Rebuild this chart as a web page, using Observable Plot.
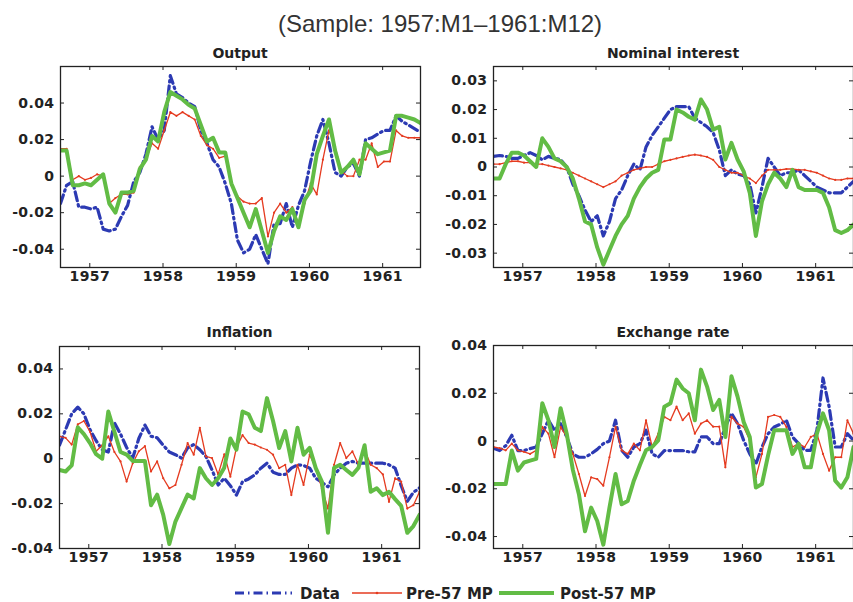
<!DOCTYPE html>
<html>
<head>
<meta charset="utf-8">
<script src="https://cdn.jsdelivr.net/npm/d3@7"></script>
<script src="https://cdn.jsdelivr.net/npm/@observablehq/plot@0.6"></script>
<style>
  html, body { margin: 0; padding: 0; background: #fff; }
  #root { position: relative; width: 853px; height: 602px; overflow: hidden; background: #fff; }
  #root svg { position: absolute; }
</style>
</head>
<body>
<div id="root"></div>
<script>
// ---- Data (monthly, 60 observations) ----
const startYear = 1956.6;
const xTicks = [1957, 1958, 1959, 1960, 1961];
const seriesNames = ["Data", "Pre-57 MP", "Post-57 MP"];

// Output
const outputData = [-0.015,-0.005,-0.003,-0.017,-0.017,-0.018,-0.017,-0.029,-0.030,-0.029,-0.022,-0.016,-0.003,0.002,0.012,0.027,0.020,0.025,0.055,0.045,0.043,0.040,0.038,0.025,0.018,0.009,0.005,-0.004,-0.015,-0.035,-0.042,-0.040,-0.032,-0.040,-0.048,-0.026,-0.026,-0.015,-0.028,-0.016,-0.008,0.008,0.022,0.031,0.018,0.002,0.000,0.005,0.007,0.000,0.020,0.021,0.023,0.025,0.025,0.033,0.030,0.028,0.026,0.024];
const outputPre = [0.015,0.015,-0.002,0.000,-0.002,-0.001,0.001,0.000,-0.015,-0.012,-0.010,-0.010,-0.009,0.005,0.009,0.018,0.015,0.025,0.035,0.033,0.035,0.033,0.031,0.022,0.017,0.015,0.010,0.011,-0.005,-0.011,-0.014,-0.015,-0.015,-0.012,-0.033,-0.020,-0.015,-0.020,-0.017,-0.026,-0.015,-0.004,-0.010,0.009,0.025,0.016,0.003,0.000,0.000,0.009,0.009,0.018,0.005,0.008,0.008,0.025,0.022,0.021,0.021,0.021];
const outputPost = [0.014,0.014,-0.005,-0.005,-0.004,-0.005,-0.002,0.001,-0.015,-0.020,-0.009,-0.009,-0.008,0.004,0.009,0.022,0.019,0.035,0.046,0.044,0.042,0.039,0.037,0.028,0.019,0.021,0.013,0.013,-0.004,-0.012,-0.020,-0.028,-0.018,-0.030,-0.042,-0.030,-0.022,-0.024,-0.018,-0.028,-0.013,-0.008,0.012,0.022,0.031,0.014,0.002,0.005,0.009,0.001,0.018,0.015,0.012,0.013,0.014,0.033,0.033,0.032,0.031,0.029];

// Nominal interest
const rateData = [0.0037,0.004,0.0037,0.003,0.003,0.004,0.005,0.004,0.0025,0.0037,0.003,0.0026,0.000,-0.006,-0.010,-0.015,-0.019,-0.017,-0.024,-0.019,-0.011,-0.008,-0.003,0.001,-0.001,0.007,0.011,0.014,0.017,0.020,0.021,0.021,0.021,0.017,0.0155,0.014,0.012,0.006,-0.003,-0.001,-0.0025,-0.003,-0.006,-0.016,-0.007,0.003,0.000,-0.003,-0.002,-0.002,-0.001,-0.003,-0.005,-0.007,-0.008,-0.009,-0.009,-0.009,-0.007,-0.005];
const ratePre = [0.001,0.001,0.0015,0.002,0.002,0.0015,0.0015,0.001,0.001,0.0005,0.000,-0.0005,-0.001,-0.002,-0.003,-0.004,-0.005,-0.006,-0.007,-0.006,-0.005,-0.003,-0.002,-0.001,-0.0005,0.000,0.000,0.001,0.002,0.0025,0.003,0.0035,0.004,0.0043,0.004,0.0035,0.0025,0.000,-0.001,-0.002,-0.002,-0.003,-0.004,-0.0056,-0.003,-0.001,-0.001,-0.001,-0.0007,-0.0007,-0.001,-0.001,-0.0015,-0.002,-0.003,-0.004,-0.0045,-0.0045,-0.004,-0.004];
const ratePost = [-0.004,-0.004,0.001,0.005,0.005,0.004,0.002,0.000,0.010,0.007,0.003,0.002,0.000,-0.004,-0.011,-0.019,-0.020,-0.028,-0.034,-0.029,-0.024,-0.020,-0.017,-0.011,-0.007,-0.004,-0.002,-0.001,0.0096,0.0096,0.020,0.019,0.0175,0.0165,0.0235,0.020,0.013,0.014,0.0026,0.0084,0.0026,-0.0015,-0.009,-0.024,-0.012,-0.006,-0.002,-0.004,-0.007,-0.001,-0.007,-0.008,-0.008,-0.008,-0.009,-0.014,-0.022,-0.023,-0.022,-0.020];

// Inflation
const inflData = [0.006,0.013,0.020,0.023,0.020,0.013,0.008,0.004,0.003,0.016,0.011,0.005,0.0003,0.009,0.015,0.010,0.0093,0.006,0.003,0.0018,0.0003,0.0048,0.0063,0.004,0.001,-0.005,-0.0117,-0.0087,-0.012,-0.0162,-0.0102,-0.009,-0.0072,-0.0042,-0.002,-0.006,-0.007,-0.007,-0.0042,-0.0027,-0.003,-0.0042,-0.0087,-0.0105,-0.0125,-0.0072,-0.0042,-0.002,-0.0012,-0.002,-0.002,-0.002,-0.002,-0.002,-0.0027,-0.0042,-0.012,-0.019,-0.015,-0.013];
const inflPre = [0.010,0.0093,0.0063,0.0153,0.0168,0.012,0.0033,0.006,0.010,0.003,-0.0012,-0.0102,-0.002,0.0033,0.0056,-0.0057,-0.0012,-0.0087,-0.0132,-0.0117,-0.0027,0.007,0.0018,0.0138,0.001,0.0003,-0.007,0.002,-0.008,0.005,0.0105,0.007,0.0063,0.005,0.004,0.0018,-0.0042,-0.0027,-0.0162,-0.0027,-0.0117,0.0018,-0.0042,-0.0132,-0.0222,-0.0027,0.007,0.0003,0.0033,-0.0027,0.004,-0.0027,-0.0042,-0.007,-0.0192,-0.0087,-0.0102,-0.0222,-0.0207,-0.0147];
const inflPost = [-0.005,-0.0057,-0.003,0.014,0.011,0.007,0.002,0.000,0.021,0.012,0.003,0.0018,-0.001,-0.001,-0.001,-0.0207,-0.016,-0.025,-0.038,-0.028,-0.022,-0.016,-0.0177,-0.0042,-0.0087,-0.0117,-0.0087,-0.004,0.009,0.004,0.021,0.0198,0.0138,0.0123,0.027,0.0168,0.0048,0.0123,-0.0012,0.0138,0.0018,0.0048,-0.0042,-0.0102,-0.033,-0.004,-0.0027,-0.005,-0.0072,-0.004,0.006,-0.0147,-0.0132,-0.0162,-0.0147,-0.018,-0.021,-0.033,-0.030,-0.025];

// Exchange rate
const fxData = [-0.003,-0.004,-0.002,0.0024,-0.004,-0.004,-0.0032,-0.0025,0.0031,0.0087,0.0045,0.0073,0.0017,-0.0054,-0.0068,-0.0068,-0.0054,-0.0035,-0.0011,0.000,0.0087,-0.0039,-0.0068,-0.0025,-0.0011,0.0045,-0.0054,-0.0068,-0.004,-0.004,-0.004,-0.004,-0.0045,-0.0045,0.0017,0.0017,-0.0011,-0.0011,0.0059,0.0116,0.0073,0.0003,-0.0054,-0.0096,-0.0025,0.003,0.0059,0.007,0.0087,0.0017,-0.0011,-0.0039,-0.0039,0.0045,0.0264,0.0144,-0.0025,-0.0025,0.0031,0.0003];
const fxPre = [-0.0025,-0.003,-0.0039,-0.0011,-0.0039,-0.0045,-0.0054,-0.0039,0.0059,0.0031,-0.0068,0.0059,0.0017,-0.0054,-0.0138,-0.023,-0.0152,-0.0159,-0.0187,-0.0068,0.0059,-0.0039,-0.0054,-0.0011,-0.0039,0.0087,-0.0025,0.0031,0.0101,0.0087,0.0144,0.0087,0.0116,0.0031,0.0073,0.0087,0.006,0.006,-0.011,0.0101,0.0073,0.0059,0.0003,-0.0152,-0.0054,0.0101,0.0109,0.0101,0.0059,-0.0025,-0.0011,-0.0025,0.0017,0.0031,-0.0054,-0.0124,-0.0068,-0.0068,0.0087,0.0031];
const fxPost = [-0.018,-0.018,-0.018,-0.004,-0.0124,-0.009,-0.0082,-0.0075,0.0158,0.0087,-0.0025,0.0137,0.0031,-0.012,-0.0223,-0.0378,-0.0279,-0.0335,-0.0434,-0.028,-0.0138,-0.0265,-0.0251,-0.0166,-0.010,-0.0039,-0.0025,0.0003,0.0144,0.0158,0.0257,0.022,0.020,0.0087,0.0299,0.0228,0.013,0.0172,0.0017,0.0271,0.0186,0.008,0.0017,-0.0195,-0.018,-0.006,0.0045,0.0045,0.0045,-0.0054,-0.0011,-0.011,-0.011,0.0031,0.0116,0.0045,-0.0166,-0.0195,-0.0152,-0.0025];

// ---- Styling ----
const BLUE = "#2c3ab3", RED = "#e53b20", GREEN = "#62bc45", INK = "#222";
const TICK_FONT = "DejaVu Sans";
const DASH = "9,4,1.5,4";
const fmtY = d => (d === 0 ? "0" : d.toFixed(2));

function rows(vals) { return vals.map((v, i) => ({ t: startYear + i / 12, v })); }

const root = document.getElementById("root");

function panel(cfg) {
  const W = 360, H = cfg.H, ml = 60, mr = 12, mt = 10, mb = 32, tk = 4;
  const textOpts = { fontSize: 14, fontWeight: "bold", fontFamily: TICK_FONT, fill: INK };
  const chart = Plot.plot({
    width: W + ml + mr, height: H + mt + mb,
    marginLeft: ml, marginRight: mr, marginTop: mt, marginBottom: mb,
    x: { domain: [startYear, startYear + 59 / 12] },
    y: { domain: cfg.yDomain },
    style: { fontFamily: TICK_FONT, fontWeight: "bold", fontSize: "14px", color: INK, background: "transparent", overflow: "visible" },
    marks: [
      Plot.lineY(rows(cfg.data), { x: "t", y: "v", stroke: BLUE, strokeWidth: 3.2, strokeDasharray: DASH, clip: true }),
      Plot.lineY(rows(cfg.pre), { x: "t", y: "v", stroke: RED, strokeWidth: 1.3, clip: true }),
      Plot.dot(rows(cfg.pre), { x: "t", y: "v", r: 1.1, fill: RED, clip: true }),
      Plot.lineY(rows(cfg.post), { x: "t", y: "v", stroke: GREEN, strokeWidth: 4, clip: true }),
      Plot.frame({ stroke: INK, strokeWidth: 1.3 }),
      Plot.ruleX(xTicks, { stroke: INK, insetTop: H - tk }),
      Plot.ruleX(xTicks, { stroke: INK, insetBottom: H - tk }),
      Plot.ruleY(cfg.yTicks, { stroke: INK, insetRight: W - tk }),
      Plot.ruleY(cfg.yTicks, { stroke: INK, insetLeft: W - tk }),
      Plot.axisX({ ticks: xTicks, tickSize: 0, tickPadding: 4, tickFormat: d => String(d), label: null, ...textOpts }),
      Plot.axisY({ ticks: cfg.yTicks, tickSize: 0, tickPadding: 6, tickFormat: fmtY, label: null, ...textOpts })
    ]
  });
  d3.select(chart).selectAll("text")
    .style("font-size", "14px").style("font-weight", "bold").style("font-family", TICK_FONT)
    .style("letter-spacing", "0.4px");
  chart.style.left = (cfg.left - ml) + "px";
  chart.style.top = (cfg.top - mt) + "px";
  root.appendChild(chart);
}

const yTicks4 = [-0.04, -0.02, 0, 0.02, 0.04];
panel({ left: 60, top: 66, H: 201, yDomain: [-0.05, 0.06], yTicks: yTicks4, data: outputData, pre: outputPre, post: outputPost });
panel({ left: 493, top: 66, H: 201, yDomain: [-0.035, 0.035], yTicks: [-0.03, -0.02, -0.01, 0, 0.01, 0.02, 0.03], data: rateData, pre: ratePre, post: ratePost });
panel({ left: 59, top: 346, H: 202, yDomain: [-0.04, 0.05], yTicks: yTicks4, data: inflData, pre: inflPre, post: inflPost });
panel({ left: 493, top: 345, H: 203, yDomain: [-0.045, 0.04], yTicks: yTicks4, data: fxData, pre: fxPre, post: fxPost });

// ---- Text overlay: title, panel titles, legend ----
const NS = "http://www.w3.org/2000/svg";
const ov = document.createElementNS(NS, "svg");
ov.setAttribute("width", 853); ov.setAttribute("height", 602);
ov.style.left = "0px"; ov.style.top = "0px";
root.appendChild(ov);
function txt(x, y, s, opts) {
  const t = document.createElementNS(NS, "text");
  t.setAttribute("x", x); t.setAttribute("y", y);
  t.setAttribute("text-anchor", opts.anchor || "start");
  t.setAttribute("font-family", opts.family || TICK_FONT);
  t.setAttribute("font-size", opts.size);
  t.setAttribute("font-weight", opts.weight || "bold");
  t.setAttribute("fill", opts.fill || INK);
  t.textContent = s;
  ov.appendChild(t);
}
function seg(x1, x2, y, stroke, w, dash) {
  const l = document.createElementNS(NS, "line");
  l.setAttribute("x1", x1); l.setAttribute("x2", x2); l.setAttribute("y1", y); l.setAttribute("y2", y);
  l.setAttribute("stroke", stroke); l.setAttribute("stroke-width", w);
  if (dash) l.setAttribute("stroke-dasharray", dash);
  ov.appendChild(l);
}
const panelTitles = ["Output", "Nominal interest", "Inflation", "Exchange rate"];
txt(440, 32, "(Sample: 1957:M1\u20131961:M12)", { anchor: "middle", family: "Liberation Sans", size: 24, weight: "normal", fill: "#333" });
txt(240, 58, panelTitles[0], { anchor: "middle", size: 14 });
txt(673, 58, panelTitles[1], { anchor: "middle", size: 14 });
txt(239.5, 337, panelTitles[2], { anchor: "middle", size: 14 });
txt(673, 337, panelTitles[3], { anchor: "middle", size: 14 });

// legend
seg(235, 292, 593, BLUE, 3, DASH);
txt(300, 598.5, seriesNames[0], { size: 15 });
seg(352, 402, 593, RED, 1.3);
const c = document.createElementNS(NS, "circle");
c.setAttribute("cx", 377); c.setAttribute("cy", 593); c.setAttribute("r", 1.3); c.setAttribute("fill", RED);
ov.appendChild(c);
txt(406, 598.5, seriesNames[1], { size: 15 });
seg(499, 554, 593, GREEN, 4);
txt(560, 598.5, seriesNames[2], { size: 15 });
</script>
</body>
</html>
